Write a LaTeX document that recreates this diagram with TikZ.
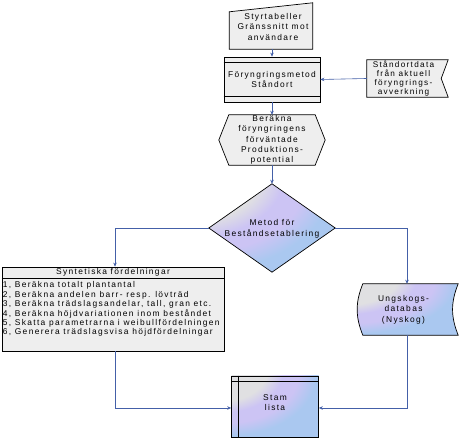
\documentclass[tikz,border=0pt]{standalone}
\usepackage{fontspec}
\newfontfamily\lab[LetterSpace=16]{Liberation Sans}
\usetikzlibrary{arrows.meta,calc}
\definecolor{lnblue}{RGB}{68,96,168}
\definecolor{boxgray}{RGB}{238,238,238}
\definecolor{ggray}{RGB}{224,224,226}
\definecolor{glav}{RGB}{204,196,244}
\definecolor{gblue}{RGB}{170,200,240}
\pgfdeclareradialshading{swirl}{\pgfpoint{-38bp}{38bp}}{color(0bp)=(ggray); color(27bp)=(ggray); color(34bp)=(glav); color(41bp)=(glav); color(49bp)=(gblue); color(150bp)=(gblue)}
\tikzset{
  x=1pt,y=1pt,
  every node/.style={font=\lab\fontsize{8.4}{10.5}\selectfont, inner sep=0pt, align=center},
  frame/.style={draw=black, line width=0.7pt, fill=boxgray},
  gradframe/.style={draw=black, line width=0.7pt, shading=swirl},
  conn/.style={draw=lnblue, line width=0.6pt, -{Stealth[length=4pt,width=3.5pt]}},
}
\begin{document}
\begin{tikzpicture}
\useasboundingbox (0,0) rectangle (459,443);
% manual input
\node[minimum width=83pt, minimum height=46pt] (inp) at (271,417) {};
\draw[frame] (inp.south west) -- ($(inp.north west)+(0,-9)$) -- (inp.north east) -- (inp.south east) -- cycle;
\node at ($(inp.center)+(2,-1)$) {Styrtabeller\\Gränssnitt mot\\användare};
% Foryngringsmetod
\node[frame, minimum width=96pt, minimum height=45pt] (fm) at (272,363.5) {Föryngringsmetod\\Ståndort};
\draw[line width=0.7pt] ($(fm.north west)+(0,-6)$) -- ($(fm.north east)+(0,-6)$);
\draw[line width=0.7pt] ($(fm.south west)+(0,6)$) -- ($(fm.south east)+(0,6)$);
% Standortdata
\node[minimum width=81pt, minimum height=37pt] (std) at (407.5,364.5) {};
\draw[frame] (std.south west) -- (std.north west) -- (std.north east) -- ($(std.east)+(-7,0)$) -- (std.south east) -- cycle;
\node[font=\lab\fontsize{8.2}{9.2}\selectfont] at ($(std.center)+(-4,0)$) {Ståndortdata\\från aktuell\\föryngrings-\\avverkning};
% hexagon
\node[minimum width=106pt, minimum height=50pt] (hex) at (272,303) {};
\draw[frame] (hex.west) -- ($(hex.north west)+(10,0)$) -- ($(hex.north east)+(-10,0)$) -- (hex.east) -- ($(hex.south east)+(-10,0)$) -- ($(hex.south west)+(10,0)$) -- cycle;
\node[font=\lab\fontsize{8.4}{10.4}\selectfont] at (hex.center) {Beräkna\\föryngringens\\förväntade\\Produktions-\\potential};
% diamond
\node[minimum width=126pt, minimum height=88pt] (dia) at (272,215) {};
\draw[gradframe] (dia.north) -- (dia.east) -- (dia.south) -- (dia.west) -- cycle;
\node at ($(dia.center)+(0,-1)$) {Metod för\\Beståndsetablering};
% Syntetiska
\node[frame, minimum width=222pt, minimum height=84pt] (syn) at (113,134) {};
\draw[line width=0.7pt] ($(syn.north west)+(0,-12)$) -- ($(syn.north east)+(0,-12)$);
\node at ($(syn.north)+(0,-6)$) {Syntetiska fördelningar};
\node[anchor=north west, align=left, font=\lab\fontsize{8.4}{9.4}\selectfont] at ($(syn.north west)+(1,-15)$) {1, Beräkna totalt plantantal\\2, Beräkna andelen barr- resp. lövträd\\3, Beräkna trädslagsandelar, tall, gran etc.\\4, Beräkna höjdvariationen inom beståndet\\5, Skatta parametrarna i weibullfördelningen\\6, Generera trädslagsvisa höjdfördelningar};
% Ungskogs
\node[minimum width=101pt, minimum height=51pt] (ung) at (407.5,133.5) {};
\draw[gradframe] ($(ung.north west)+(6,0)$) -- (ung.north east) to[bend right=22] (ung.south east) -- ($(ung.south west)+(6,0)$) to[bend left=22] cycle;
\node at ($(ung.center)+(-4,0)$) {Ungskogs-\\databas\\(Nyskog)};
% Stamlista
\node[gradframe, minimum width=87pt, minimum height=61pt] (stam) at (275,36.5) {};
\draw[line width=0.7pt] ($(stam.north west)+(0,-6)$) -- ($(stam.north east)+(0,-6)$);
\draw[line width=0.7pt] ($(stam.north west)+(7,0)$) -- ($(stam.south west)+(7,0)$);
\node at ($(stam.center)+(0,4)$) {Stam\\lista};
% connectors
\coordinate (synin) at (115,0);
\coordinate (ungin) at (407,0);
\coordinate (low) at (0,35);
\draw[conn] (inp.south -| fm.north) -- (fm.north);
\draw[conn] (fm.south) -- (hex.north);
\draw[conn] (std.west) -- (fm.east);
\draw[conn] (hex.south) -- (dia.north);
\draw[conn] (dia.west) -| (synin |- syn.north);
\draw[conn] (dia.east) -| (ungin |- ung.north);
\draw[conn] (synin |- syn.south) |- (stam.west |- low);
\draw[conn] (ungin |- ung.south) |- (stam.east |- low);
\end{tikzpicture}
\end{document}
